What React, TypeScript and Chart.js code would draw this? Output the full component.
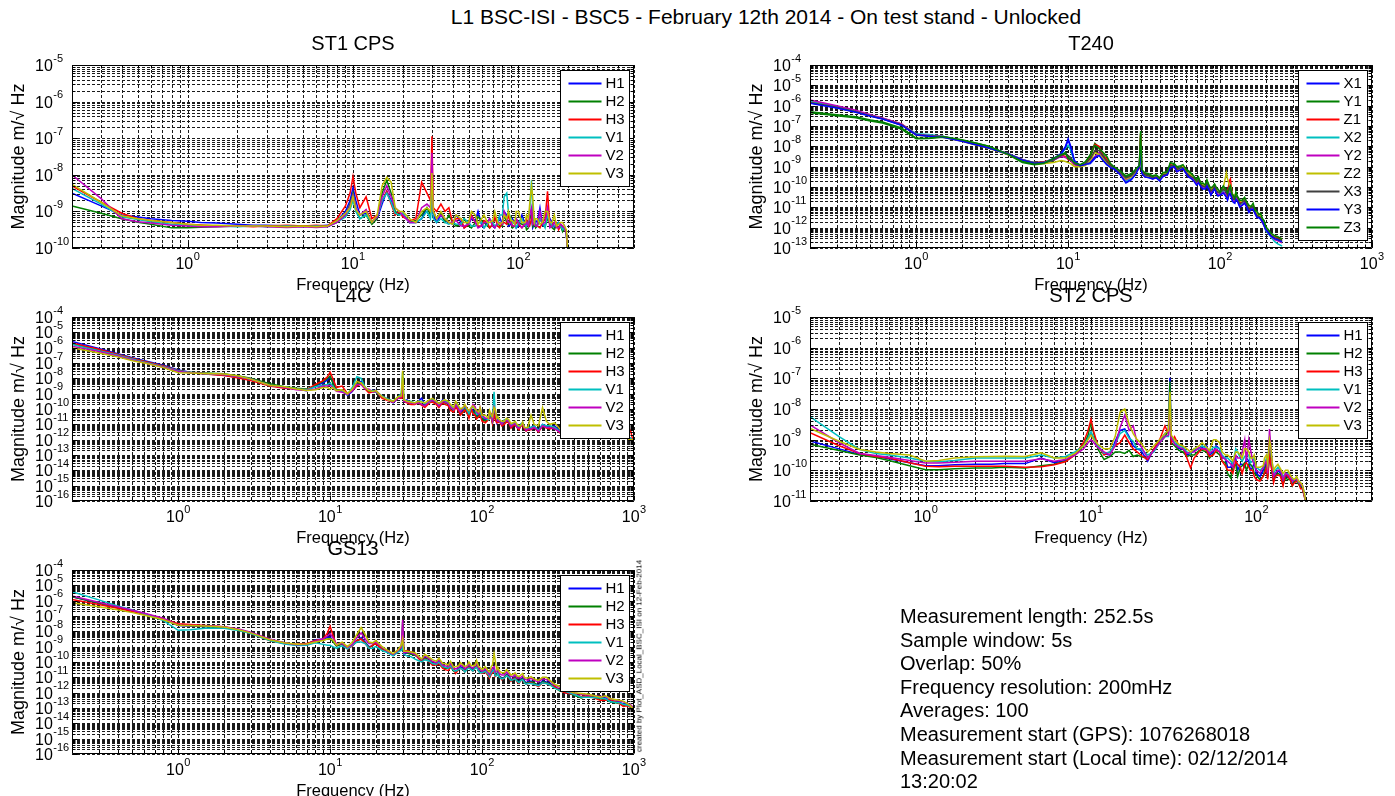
import { useEffect, useRef } from "react";
import { Chart, registerables } from "chart.js";

Chart.register(...registerables);

const PAGE_W = 1395;
const PAGE_H = 796;
const FONT = '"Liberation Sans", Arial, Helvetica, sans-serif';

const SUPTITLE = "L1 BSC-ISI - BSC5 - February 12th 2014 - On test stand - Unlocked";
const CREDIT = "created by Plot_ASD_Local_BSC_ISI on 12-Feb-2014";
const INFO_LINES = [
  "Measurement length: 252.5s",
  "Sample window: 5s",
  "Overlap: 50%",
  "Frequency resolution: 200mHz",
  "Averages: 100",
  "Measurement start (GPS): 1076268018",
  "Measurement start (Local time): 02/12/2014",
  "13:20:02",
];
const X_LABEL = "Frequency (Hz)";
const Y_LABEL = "Magnitude m/\u221A Hz";

// Frequency bins (Hz): main bins plus extra high-frequency bins
const FREQ_CPS = [
  0.2, 0.3, 0.4, 0.5, 0.6, 0.8, 1, 1.2, 1.5, 2,
  2.5, 3, 4, 5, 6, 7, 8, 9, 9.6, 10,
  10.4, 11, 12, 13, 14, 15, 16, 17, 18, 19,
  20, 22, 24, 26, 28, 29.4, 30, 30.6, 32, 34,
  36, 38, 40, 45, 50, 55, 60, 65, 70, 75,
  80, 85, 90, 95, 100, 110, 115, 120, 125, 130,
  140, 150, 160, 170, 180, 190, 200,
];
const FREQ_T240 = [...FREQ_CPS, 215, 230, 256];
const FREQ_INERTIAL = [...FREQ_CPS, 220, 250, 280, 300, 350, 400, 500, 600, 700, 800, 900, 950, 1000];

const FINE_CPS = [
  42, 47, 52, 57, 62, 67, 72, 77, 82, 87,
  92, 97, 105, 112, 117, 122, 127, 135, 145, 155,
  165, 175, 185, 195,
];
const FINE_T240 = [...FINE_CPS, 208, 240];
const FINE_INERTIAL = [...FINE_CPS, 210, 235, 265, 325, 450, 650, 850, 975];

// Amplitude spectral densities, stored as log10(m/sqrt(Hz))
const ST1_H1 = [
  -8.5, -8.85, -9.1, -9.15, -9.2, -9.25, -9.27, -9.3, -9.32, -9.35,
  -9.38, -9.38, -9.4, -9.4, -9.4, -9.38, -9.25, -9.0, -8.7, -8.35,
  -8.7, -9.1, -9.05, -9.3, -9.2, -8.8, -8.45, -8.7, -9.05, -9.0,
  -9.1, -9.3, -9.3, -9.2, -8.9, -9.05, -8.4, -9.1, -9.3, -9.1,
  -9.25, -9.3, -9.35, -9.3, -9.35, -9.25, -9.38, -9.3, -9.4, -9.3,
  -9.35, -9.1, -9.35, -9.3, -9.4, -9.35, -9.3, -9.05, -9.35, -9.3,
  -9.38, -9.0, -9.3, -9.4, -9.35, -9.4, -10.3,
];
const ST1_H1_F = [-9.1, -9.45, -9.2, -9.0, -9.45, -9.2, -9.45, -9.15, -9.0, -9.4, -9.2, -9.45, -9.1, -9.4, -9.2, -9.45, -9.25, -8.9, -9.4, -9.2, -9.45, -9.3, -9.5, -9.6];
const ST1_H2 = [
  -8.85, -9.05, -9.2, -9.3, -9.35, -9.45, -9.45, -9.43, -9.42, -9.4,
  -9.4, -9.4, -9.42, -9.4, -9.42, -9.4, -9.3, -9.1, -8.8, -8.5,
  -8.9, -9.2, -9.1, -9.35, -9.2, -8.5, -8.15, -8.5, -9.0, -9.1,
  -9.05, -9.3, -9.25, -9.1, -8.9, -9.1, -8.4, -9.0, -9.2, -9.05,
  -9.3, -9.1, -9.3, -9.35, -9.4, -9.3, -9.25, -9.4, -9.35, -9.3,
  -9.4, -9.3, -9.2, -9.4, -9.3, -9.35, -9.45, -9.1, -9.3, -9.4,
  -9.35, -9.2, -9.45, -9.35, -9.4, -9.45, -10.4,
];
const ST1_H2_F = [-9.4, -9.2, -9.45, -9.15, -9.3, -9.45, -9.2, -9.4, -9.1, -9.35, -9.45, -9.2, -9.35, -9.5, -9.2, -9.4, -9.45, -9.2, -9.4, -9.3, -9.5, -9.35, -9.55, -9.6];
const ST1_H3 = [
  -8.3, -8.75, -9.05, -9.2, -9.25, -9.3, -9.35, -9.37, -9.4, -9.4,
  -9.42, -9.4, -9.38, -9.4, -9.38, -9.4, -9.2, -8.85, -8.5, -8.05,
  -8.5, -8.9, -8.6, -9.2, -9.1, -8.7, -8.45, -8.8, -9.1, -9.0,
  -9.15, -9.25, -9.2, -8.2, -8.5, -8.7, -6.95, -8.9, -9.0, -8.8,
  -9.0, -8.9, -9.3, -9.2, -9.35, -9.3, -9.4, -9.3, -9.35, -9.4,
  -9.3, -9.35, -9.3, -9.4, -9.35, -9.3, -9.4, -9.2, -9.35, -9.4,
  -9.3, -8.45, -9.35, -9.3, -9.4, -9.45, -10.2,
];
const ST1_H3_F = [-9.2, -9.45, -9.1, -9.4, -9.25, -9.45, -9.15, -9.45, -9.3, -9.1, -9.4, -9.3, -9.45, -9.2, -9.4, -8.9, -9.35, -9.45, -9.2, -9.4, -9.3, -9.5, -9.4, -9.6];
const ST1_V1 = [
  -8.37, -8.8, -9.15, -9.22, -9.28, -9.35, -9.38, -9.4, -9.4, -9.42,
  -9.4, -9.42, -9.4, -9.42, -9.4, -9.42, -9.3, -9.15, -8.95, -8.7,
  -9.0, -9.2, -9.1, -9.3, -9.15, -8.7, -8.5, -8.75, -9.05, -9.1,
  -9.05, -9.3, -9.3, -9.2, -9.0, -9.2, -8.5, -9.2, -9.3, -9.2,
  -9.3, -9.35, -9.3, -9.35, -9.3, -9.4, -9.3, -9.35, -9.3, -9.35,
  -9.1, -8.5, -9.2, -9.35, -9.3, -9.4, -9.3, -8.15, -9.3, -9.35,
  -9.3, -9.1, -9.4, -9.35, -9.4, -9.45, -10.3,
];
const ST1_V1_F = [-9.35, -9.2, -9.4, -9.3, -9.45, -9.2, -9.4, -9.1, -8.6, -9.0, -9.3, -9.45, -9.2, -9.4, -9.0, -8.9, -9.35, -9.2, -9.45, -9.3, -9.4, -9.3, -9.5, -9.6];
const ST1_V2 = [
  -8.0, -8.65, -9.2, -9.28, -9.32, -9.38, -9.4, -9.42, -9.42, -9.4,
  -9.4, -9.42, -9.44, -9.42, -9.44, -9.42, -9.3, -9.1, -8.85, -8.56,
  -8.9, -9.1, -8.95, -9.3, -9.15, -8.6, -8.3, -8.6, -8.9, -9.0,
  -9.1, -9.3, -9.3, -8.9, -8.8, -8.9, -7.4, -9.0, -9.2, -9.1,
  -9.2, -9.3, -9.3, -9.4, -9.35, -9.3, -9.4, -9.3, -9.4, -9.3,
  -9.35, -9.2, -9.3, -9.4, -9.3, -9.35, -9.4, -8.9, -9.3, -9.4,
  -9.35, -8.9, -9.4, -9.45, -9.35, -9.45, -10.3,
];
const ST1_V2_F = [-9.25, -9.4, -9.15, -9.45, -9.3, -9.2, -9.45, -9.3, -9.0, -9.3, -9.4, -9.2, -9.45, -9.3, -9.1, -9.35, -9.4, -9.0, -9.3, -9.45, -9.3, -9.45, -9.4, -9.6];
const ST1_V3 = [
  -8.26, -8.75, -9.12, -9.2, -9.25, -9.3, -9.35, -9.38, -9.38, -9.4,
  -9.4, -9.4, -9.42, -9.4, -9.42, -9.4, -9.25, -9.05, -8.9, -8.6,
  -8.95, -9.1, -9.0, -9.3, -9.1, -8.3, -8.07, -8.2, -8.9, -9.0,
  -9.0, -9.2, -9.3, -9.0, -8.9, -9.0, -7.95, -9.0, -9.2, -9.0,
  -9.2, -9.3, -9.35, -9.2, -9.3, -9.1, -9.2, -9.3, -9.25, -9.3,
  -9.3, -9.2, -9.25, -9.35, -9.0, -9.3, -9.2, -8.3, -9.3, -9.2,
  -9.3, -9.0, -9.3, -9.4, -9.3, -9.4, -10.3,
];
const ST1_V3_F = [-9.1, -9.3, -9.0, -9.35, -9.1, -9.3, -9.0, -9.35, -9.1, -9.0, -9.25, -9.0, -9.3, -9.1, -8.8, -8.6, -9.2, -9.35, -9.0, -9.3, -9.1, -9.35, -9.3, -9.5];

const T240_X1 = [
  -5.86, -6.1, -6.3, -6.5, -6.65, -6.95, -7.42, -7.48, -7.53, -7.72,
  -7.9, -8.05, -8.35, -8.65, -8.82, -8.78, -8.6, -8.35, -8.0, -7.63,
  -8.0, -8.7, -8.95, -8.9, -8.85, -8.6, -8.4, -8.7, -8.9, -9.0,
  -9.05, -9.3, -9.75, -9.6, -9.3, -8.9, -8.2, -9.3, -9.5, -9.4,
  -9.55, -9.5, -9.65, -9.3, -8.95, -9.1, -9.3, -9.5, -9.8, -9.9,
  -10.0, -10.2, -10.1, -10.3, -10.35, -10.5, -10.3, -10.6, -10.75, -10.6,
  -10.85, -10.95, -11.05, -11.3, -11.5, -11.7, -12.1, -12.35, -12.5, -12.65,
];
const T240_X1_F = [-9.4, -9.0, -9.2, -9.05, -9.5, -9.65, -9.7, -10.05, -9.85, -10.35, -10.0, -10.4, -10.2, -10.6, -10.2, -10.7, -10.5, -10.95, -10.75, -11.2, -11.0, -11.45, -11.5, -11.85, -12.2, -12.6];
const T240_Y1 = [
  -6.35, -6.5, -6.6, -6.75, -6.85, -7.15, -7.63, -7.62, -7.55, -7.7,
  -7.85, -8.0, -8.4, -8.8, -8.9, -8.85, -8.7, -8.45, -8.3, -8.55,
  -8.6, -8.85, -8.95, -8.8, -8.4, -7.85, -8.05, -8.4, -8.65, -8.9,
  -9.05, -9.25, -9.5, -9.4, -9.15, -9.0, -7.25, -9.2, -9.35, -9.4,
  -9.5, -9.45, -9.6, -9.3, -8.9, -9.0, -9.2, -9.4, -9.7, -9.9,
  -9.95, -10.0, -10.0, -10.1, -10.3, -10.2, -10.1, -10.4, -10.6, -10.5,
  -10.7, -10.8, -11.0, -11.2, -11.4, -11.6, -12.0, -12.3, -12.45, -12.6,
];
const T240_Y1_F = [-9.35, -8.85, -9.05, -8.95, -9.25, -9.5, -9.55, -9.85, -9.7, -10.15, -9.9, -10.2, -10.0, -10.35, -10.0, -10.5, -10.3, -10.7, -10.6, -11.0, -10.9, -11.3, -11.4, -11.7, -12.15, -12.5];
const T240_Z1 = [
  -5.8, -6.05, -6.28, -6.48, -6.62, -6.9, -7.4, -7.46, -7.52, -7.74,
  -7.92, -8.07, -8.35, -8.68, -8.8, -8.75, -8.65, -8.4, -8.5, -8.65,
  -8.7, -8.9, -8.95, -8.85, -8.5, -7.9, -8.0, -8.5, -8.6, -8.9,
  -9.1, -9.3, -9.6, -9.5, -9.2, -9.1, -7.4, -9.2, -9.4, -9.5,
  -9.55, -9.5, -9.6, -9.35, -9.0, -9.15, -9.3, -9.5, -9.75, -9.85,
  -10.0, -10.1, -10.0, -10.2, -10.3, -10.2, -9.7, -10.4, -10.5, -10.55,
  -10.7, -10.85, -11.0, -11.25, -11.4, -11.65, -12.05, -12.3, -12.45, -12.55,
];
const T240_Z1_F = [-9.45, -8.9, -9.1, -9.0, -9.35, -9.55, -9.6, -9.9, -9.75, -10.2, -9.95, -10.25, -10.1, -10.3, -9.6, -10.55, -10.4, -10.8, -10.6, -11.05, -10.9, -11.35, -11.45, -11.8, -12.15, -12.5];
const T240_X2 = [
  -5.8, -6.05, -6.3, -6.48, -6.62, -6.92, -7.38, -7.42, -7.5, -7.72,
  -7.9, -8.05, -8.35, -8.66, -8.8, -8.78, -8.62, -8.4, -8.1, -7.95,
  -8.2, -8.75, -8.95, -8.85, -8.8, -8.5, -8.35, -8.65, -8.85, -9.0,
  -9.1, -9.3, -9.7, -9.55, -9.3, -9.0, -8.3, -9.3, -9.45, -9.5,
  -9.6, -9.5, -9.6, -9.35, -9.0, -9.1, -9.35, -9.5, -9.8, -9.95,
  -10.05, -10.1, -10.2, -10.3, -10.35, -10.4, -10.2, -10.5, -10.7, -10.6,
  -10.85, -10.9, -11.1, -11.3, -11.5, -11.75, -12.15, -12.45, -12.7, -12.9,
];
const T240_X2_F = [-9.4, -9.0, -9.2, -9.1, -9.45, -9.6, -9.75, -10.0, -9.9, -10.25, -10.05, -10.35, -10.2, -10.5, -10.25, -10.65, -10.55, -10.9, -10.75, -11.15, -11.05, -11.45, -11.55, -11.9, -12.3, -12.8];
const T240_Y2 = [
  -5.72, -6.0, -6.22, -6.45, -6.6, -6.9, -7.42, -7.47, -7.52, -7.73,
  -7.9, -8.05, -8.36, -8.66, -8.82, -8.8, -8.68, -8.5, -8.55, -8.6,
  -8.7, -8.9, -9.0, -8.9, -8.75, -8.5, -8.3, -8.6, -8.8, -9.0,
  -9.1, -9.35, -9.65, -9.5, -9.25, -9.05, -8.15, -9.3, -9.5, -9.5,
  -9.6, -9.55, -9.65, -9.4, -9.05, -9.15, -9.35, -9.55, -9.85, -9.95,
  -10.05, -10.1, -10.15, -10.3, -10.4, -10.35, -10.1, -10.5, -10.7, -10.6,
  -10.9, -10.95, -11.05, -11.3, -11.5, -11.75, -12.1, -12.4, -12.6, -12.75,
];
const T240_Y2_F = [-9.45, -9.0, -9.25, -9.1, -9.5, -9.65, -9.75, -10.05, -9.9, -10.3, -10.05, -10.35, -10.25, -10.55, -10.2, -10.7, -10.55, -10.95, -10.75, -11.2, -11.05, -11.5, -11.55, -11.9, -12.25, -12.65];
const T240_Z2 = [
  -5.85, -6.1, -6.32, -6.5, -6.65, -6.95, -7.45, -7.5, -7.55, -7.75,
  -7.95, -8.1, -8.4, -8.7, -8.85, -8.85, -8.8, -8.7, -8.75, -8.8,
  -8.85, -9.0, -9.0, -8.95, -8.7, -8.3, -8.4, -8.6, -8.8, -9.0,
  -9.05, -9.3, -9.6, -9.5, -9.25, -9.0, -8.15, -9.25, -9.45, -9.5,
  -9.55, -9.5, -9.6, -9.35, -9.0, -9.1, -9.3, -9.45, -9.7, -9.8,
  -9.9, -10.0, -10.1, -10.2, -10.25, -9.3, -9.9, -10.3, -10.4, -10.5,
  -10.7, -10.8, -11.0, -11.2, -11.4, -11.6, -12.0, -12.3, -12.5, -12.7,
];
const T240_Z2_F = [-9.35, -8.95, -9.15, -9.0, -9.35, -9.5, -9.6, -9.9, -9.75, -10.1, -9.9, -10.15, -10.05, -9.6, -9.9, -10.4, -10.3, -10.7, -10.55, -10.95, -10.85, -11.3, -11.4, -11.8, -12.15, -12.6];
const T240_X3 = [
  -5.84, -6.08, -6.3, -6.5, -6.64, -6.93, -7.43, -7.48, -7.53, -7.73,
  -7.92, -8.07, -8.37, -8.67, -8.82, -8.8, -8.66, -8.45, -8.35, -8.45,
  -8.55, -8.85, -8.95, -8.85, -8.6, -8.2, -8.2, -8.5, -8.75, -8.95,
  -9.05, -9.3, -9.55, -9.45, -9.2, -9.0, -7.9, -9.25, -9.4, -9.45,
  -9.55, -9.5, -9.6, -9.35, -8.95, -9.05, -9.3, -9.5, -9.75, -9.9,
  -10.0, -10.05, -10.1, -10.2, -10.3, -10.25, -10.0, -10.45, -10.6, -10.5,
  -10.75, -10.85, -11.0, -11.25, -11.45, -11.65, -12.05, -12.35, -12.5, -12.65,
];
const T240_X3_F = [-9.4, -8.95, -9.15, -9.05, -9.4, -9.55, -9.65, -9.95, -9.8, -10.2, -9.95, -10.25, -10.1, -10.4, -10.1, -10.6, -10.45, -10.85, -10.65, -11.1, -10.95, -11.4, -11.5, -11.85, -12.2, -12.55];
const T240_Y3 = [
  -5.88, -6.12, -6.32, -6.52, -6.66, -6.96, -7.44, -7.5, -7.55, -7.75,
  -7.93, -8.08, -8.38, -8.68, -8.84, -8.8, -8.62, -8.38, -8.05, -7.7,
  -8.05, -8.72, -8.95, -8.9, -8.8, -8.55, -8.45, -8.7, -8.9, -9.05,
  -9.1, -9.4, -9.8, -9.65, -9.35, -9.0, -8.25, -9.35, -9.5, -9.55,
  -9.6, -9.55, -9.7, -9.4, -9.0, -9.15, -9.35, -9.6, -9.9, -10.0,
  -10.1, -10.2, -10.2, -10.35, -10.4, -10.5, -10.35, -10.65, -10.8, -10.7,
  -10.9, -11.0, -11.1, -11.3, -11.5, -11.7, -12.1, -12.4, -12.55, -12.7,
];
const T240_Y3_F = [-9.5, -9.05, -9.25, -9.1, -9.5, -9.7, -9.8, -10.1, -9.95, -10.4, -10.1, -10.45, -10.3, -10.65, -10.35, -10.75, -10.6, -11.0, -10.8, -11.25, -11.1, -11.5, -11.6, -11.9, -12.25, -12.6];
const T240_Z3 = [
  -6.3, -6.45, -6.55, -6.7, -6.8, -7.1, -7.6, -7.6, -7.52, -7.68,
  -7.85, -8.0, -8.38, -8.75, -8.88, -8.82, -8.6, -8.4, -8.35, -8.6,
  -8.65, -8.8, -8.9, -8.75, -8.45, -7.95, -8.1, -8.3, -8.5, -8.85,
  -9.0, -9.2, -9.45, -9.35, -9.1, -8.95, -7.35, -9.15, -9.3, -9.35,
  -9.45, -9.4, -9.55, -9.25, -8.85, -8.95, -9.15, -9.35, -9.65, -9.85,
  -9.9, -9.95, -9.95, -10.05, -10.25, -10.15, -10.05, -10.35, -10.55, -10.45,
  -10.65, -10.75, -10.95, -11.15, -11.35, -11.55, -11.95, -12.25, -12.4, -12.55,
];
const T240_Z3_F = [-9.3, -8.8, -9.0, -8.9, -9.2, -9.45, -9.5, -9.8, -9.65, -10.05, -9.85, -10.1, -9.95, -10.3, -9.95, -10.4, -10.25, -10.65, -10.5, -10.9, -10.8, -11.2, -11.3, -11.65, -12.1, -12.45];

const L4C_H1 = [
  -5.6, -6.05, -6.4, -6.65, -6.85, -7.15, -7.45, -7.6, -7.7, -7.8,
  -7.95, -8.1, -8.45, -8.6, -8.7, -8.8, -8.5, -8.3, -8.1, -7.9,
  -8.2, -8.8, -8.8, -9.1, -8.85, -8.4, -8.2, -8.6, -8.9, -8.8,
  -8.8, -9.2, -9.4, -9.6, -9.3, -9.2, -8.7, -9.5, -9.4, -9.6,
  -9.65, -9.5, -9.3, -9.6, -9.5, -9.4, -9.6, -10.0, -9.9, -10.1,
  -10.2, -10.0, -10.3, -10.2, -10.5, -10.6, -10.4, -10.2, -10.9, -10.7,
  -10.8, -10.9, -11.0, -11.1, -11.0, -11.2, -11.3,
  -11.1, -11.0, -11.2, -11.1, -11.3, -11.4, -11.5, -11.4, -11.6, -11.7, -11.8, -11.9, -12.2,
];
const L4C_H1_F = [-9.7, -9.35, -9.75, -9.5, -9.9, -9.7, -10.2, -9.9, -10.4, -10.1, -10.5, -10.3, -10.7, -10.35, -10.8, -10.5, -10.7, -11.0, -10.7, -11.1, -10.9, -11.2, -10.9, -11.35, -11.2, -11.4, -11.1, -11.4, -11.6, -11.5, -11.8, -12.0];
const L4C_H2 = [
  -5.75, -6.15, -6.45, -6.7, -6.9, -7.2, -7.5, -7.6, -7.65, -7.7,
  -7.85, -8.0, -8.35, -8.55, -8.65, -8.7, -8.45, -8.2, -8.0, -7.85,
  -8.3, -8.75, -8.8, -9.05, -8.8, -8.35, -8.3, -8.65, -8.9, -8.85,
  -8.9, -9.25, -9.35, -9.5, -9.25, -9.1, -8.6, -9.4, -9.5, -9.6,
  -9.6, -9.55, -9.7, -9.5, -9.6, -9.5, -9.7, -10.1, -10.0, -10.2,
  -10.3, -10.1, -10.2, -10.4, -10.6, -10.7, -10.5, -10.3, -10.8, -10.8,
  -10.9, -10.8, -11.0, -11.2, -11.1, -11.2, -11.3,
  -11.2, -11.1, -11.2, -11.2, -11.35, -11.4, -11.5, -11.5, -11.6, -11.7, -11.9, -12.0, -12.3,
];
const L4C_H2_F = [-9.8, -9.5, -9.85, -9.6, -10.0, -9.8, -10.3, -10.0, -10.5, -10.2, -10.6, -10.35, -10.8, -10.5, -10.9, -10.6, -10.85, -11.05, -10.8, -11.2, -11.0, -11.3, -11.0, -11.4, -11.3, -11.45, -11.2, -11.5, -11.65, -11.6, -11.85, -12.1];
const L4C_H3 = [
  -5.7, -6.1, -6.45, -6.7, -6.9, -7.2, -7.5, -7.62, -7.72, -7.82,
  -7.98, -8.15, -8.5, -8.65, -8.7, -8.75, -8.4, -8.15, -7.9, -7.6,
  -8.0, -8.6, -8.5, -9.0, -8.8, -8.5, -8.35, -8.7, -8.95, -8.9,
  -8.85, -9.3, -9.45, -9.55, -9.3, -9.3, -9.0, -9.5, -9.6, -9.7,
  -9.7, -9.6, -9.75, -9.6, -9.7, -9.6, -9.8, -10.2, -10.1, -10.2,
  -10.3, -10.0, -10.4, -10.5, -10.8, -10.7, -10.6, -10.4, -10.9, -10.8,
  -11.0, -10.9, -11.1, -11.2, -11.1, -11.3, -11.35,
  -11.2, -11.1, -11.3, -11.2, -11.4, -11.5, -11.6, -11.5, -11.6, -11.7, -11.8, -11.4, -12.1,
];
const L4C_H3_F = [-9.9, -9.55, -9.9, -9.7, -10.1, -9.9, -10.4, -10.05, -10.6, -10.3, -10.65, -10.4, -10.9, -10.55, -10.95, -10.7, -10.9, -11.1, -10.85, -11.25, -11.05, -11.35, -11.1, -11.45, -11.35, -11.5, -11.25, -11.55, -11.7, -11.6, -11.3, -11.9];
const L4C_V1 = [
  -5.8, -6.2, -6.5, -6.75, -6.95, -7.25, -7.52, -7.62, -7.7, -7.75,
  -7.9, -8.05, -8.45, -8.55, -8.7, -8.75, -8.55, -8.45, -8.4, -8.3,
  -8.5, -8.8, -8.85, -9.05, -8.6, -7.9, -8.0, -8.6, -8.8, -8.8,
  -8.9, -9.15, -9.35, -9.5, -9.2, -9.0, -7.6, -9.4, -9.5, -9.5,
  -9.6, -9.5, -9.5, -9.55, -9.5, -9.5, -9.6, -10.0, -9.9, -10.0,
  -10.1, -9.9, -10.0, -10.3, -10.5, -10.7, -10.5, -8.87, -10.6, -10.8,
  -10.7, -10.8, -11.0, -11.1, -11.0, -11.2, -11.2,
  -11.1, -11.0, -11.1, -11.2, -11.3, -11.4, -11.5, -11.4, -11.6, -11.7, -11.8, -11.9, -12.15,
];
const L4C_V1_F = [-9.65, -9.4, -9.7, -9.45, -9.8, -9.6, -10.1, -9.85, -10.3, -9.9, -10.35, -10.2, -10.6, -10.3, -10.75, -10.2, -10.6, -10.95, -10.7, -11.05, -10.9, -11.15, -10.9, -11.3, -11.2, -11.4, -11.1, -11.45, -11.6, -11.55, -11.8, -12.0];
const L4C_V2 = [
  -5.9, -6.25, -6.55, -6.8, -6.98, -7.28, -7.55, -7.63, -7.68, -7.75,
  -7.9, -8.05, -8.45, -8.6, -8.75, -8.8, -8.7, -8.5, -8.5, -8.45,
  -8.6, -8.85, -8.9, -9.05, -8.8, -8.4, -8.4, -8.7, -8.7, -8.9,
  -8.85, -9.2, -9.4, -9.55, -9.3, -9.2, -8.3, -9.5, -9.55, -9.6,
  -9.65, -9.6, -9.7, -9.5, -9.55, -9.5, -9.65, -10.05, -10.0, -9.9,
  -10.0, -10.0, -9.85, -10.3, -10.4, -10.6, -10.3, -9.9, -10.7, -10.75,
  -10.8, -10.8, -11.0, -11.2, -11.1, -11.2, -11.3,
  -11.2, -11.1, -11.2, -11.3, -11.3, -11.4, -11.5, -11.6, -11.6, -11.8, -11.9, -12.0, -12.3,
];
const L4C_V2_F = [-9.8, -9.45, -9.8, -9.55, -9.9, -9.7, -10.2, -9.8, -10.1, -9.7, -10.2, -9.9, -10.6, -10.3, -10.7, -10.1, -10.8, -11.0, -10.75, -11.15, -10.95, -11.25, -11.0, -11.4, -11.3, -11.45, -11.2, -11.5, -11.65, -11.6, -11.85, -12.1];
const L4C_V3 = [
  -6.0, -6.35, -6.6, -6.85, -7.0, -7.3, -7.63, -7.65, -7.68, -7.72,
  -7.85, -8.05, -8.45, -8.55, -8.7, -8.8, -8.75, -8.6, -8.6, -8.7,
  -8.6, -8.8, -8.75, -9.0, -8.7, -8.2, -8.3, -8.6, -8.8, -8.85,
  -8.8, -9.2, -9.4, -9.5, -9.2, -9.15, -7.5, -9.4, -9.5, -9.55,
  -9.6, -9.5, -9.55, -9.4, -9.5, -9.45, -9.5, -9.9, -9.8, -9.9,
  -10.0, -9.9, -10.0, -10.2, -10.4, -10.6, -10.4, -9.9, -10.6, -10.7,
  -10.8, -10.7, -10.9, -11.0, -11.1, -11.2, -11.2,
  -11.0, -9.9, -11.0, -10.9, -11.2, -11.3, -11.5, -11.4, -11.6, -11.7, -11.9, -12.0, -12.3,
];
const L4C_V3_F = [-9.6, -9.3, -9.65, -9.4, -9.7, -9.5, -10.0, -9.7, -10.1, -9.8, -10.1, -9.9, -10.4, -10.1, -10.5, -10.0, -10.5, -10.8, -10.6, -10.95, -10.8, -11.1, -10.85, -11.2, -10.4, -11.1, -10.8, -11.3, -11.5, -11.5, -11.75, -12.0];

const ST2_H1 = [
  -9.04, -9.3, -9.48, -9.55, -9.62, -9.75, -9.85, -9.85, -9.82, -9.8,
  -9.8, -9.78, -9.78, -9.6, -9.75, -9.68, -9.45, -9.15, -8.95, -8.77,
  -9.0, -9.2, -9.45, -9.5, -9.05, -8.7, -8.65, -8.9, -9.2, -9.3,
  -9.35, -9.7, -9.3, -9.05, -8.8, -8.7, -6.98, -9.0, -9.1, -9.3,
  -9.3, -9.5, -9.45, -9.3, -9.2, -9.4, -9.3, -9.6, -9.9, -9.6,
  -9.8, -9.9, -9.7, -9.9, -10.1, -10.0, -9.7, -9.4, -10.0, -10.1,
  -10.1, -10.2, -10.3, -10.35, -10.4, -10.6, -11.1,
];
const ST2_H1_F = [-9.35, -9.25, -9.5, -9.2, -9.6, -9.9, -9.7, -10.0, -9.8, -9.6, -10.0, -9.75, -10.2, -9.9, -10.2, -9.5, -10.3, -10.0, -10.4, -10.2, -10.45, -10.3, -10.5, -10.8];
const ST2_H2 = [
  -9.15, -9.35, -9.5, -9.58, -9.68, -9.85, -9.98, -9.98, -9.95, -9.92,
  -9.92, -9.9, -9.92, -9.85, -9.8, -9.7, -9.5, -9.2, -8.85, -8.45,
  -8.8, -9.3, -9.65, -9.55, -9.4, -9.4, -9.45, -9.35, -9.55, -9.5,
  -9.55, -9.6, -9.35, -9.1, -8.9, -8.7, -7.1, -9.1, -9.2, -9.35,
  -9.4, -9.55, -9.5, -9.35, -9.4, -9.45, -9.5, -9.75, -10.25, -9.8,
  -9.9, -9.75, -9.8, -9.9, -10.15, -10.2, -9.8, -9.3, -10.1, -10.2,
  -10.15, -10.25, -10.3, -10.35, -10.45, -10.6, -11.1,
];
const ST2_H2_F = [-9.5, -9.35, -9.6, -9.4, -9.7, -10.1, -9.9, -10.2, -9.85, -10.0, -9.8, -10.1, -10.3, -10.0, -10.25, -9.7, -10.35, -10.1, -10.45, -10.3, -10.5, -10.35, -10.55, -10.85];
const ST2_H3 = [
  -8.77, -9.2, -9.45, -9.55, -9.6, -9.75, -9.87, -9.88, -9.87, -9.87,
  -9.87, -9.87, -9.9, -9.88, -9.82, -9.72, -9.5, -9.1, -8.7, -8.33,
  -8.75, -9.2, -9.5, -9.4, -9.2, -9.1, -8.85, -9.1, -9.3, -9.4,
  -9.5, -9.65, -9.3, -9.0, -8.55, -8.8, -8.3, -9.1, -8.9, -9.2,
  -9.25, -9.6, -9.92, -9.4, -9.35, -9.5, -9.4, -9.85, -10.0, -9.7,
  -9.9, -9.8, -9.9, -10.0, -10.3, -10.2, -9.9, -9.5, -10.1, -10.2,
  -10.2, -10.1, -10.3, -10.4, -10.4, -10.6, -11.1,
];
const ST2_H3_F = [-9.6, -9.3, -9.55, -9.35, -9.7, -10.0, -10.1, -9.8, -10.1, -9.75, -10.0, -10.2, -10.35, -10.1, -10.3, -9.8, -10.4, -10.15, -10.5, -10.2, -10.5, -10.35, -10.6, -10.85];
const ST2_V1 = [
  -8.25, -8.9, -9.32, -9.45, -9.5, -9.6, -9.7, -9.72, -9.68, -9.6,
  -9.6, -9.6, -9.6, -9.5, -9.6, -9.55, -9.4, -9.2, -8.95, -8.75,
  -8.95, -9.2, -9.45, -9.4, -9.15, -8.8, -8.7, -8.95, -9.05, -9.3,
  -9.3, -9.5, -9.4, -9.1, -8.9, -8.9, -7.7, -8.9, -9.1, -9.2,
  -9.25, -9.4, -9.45, -9.3, -9.3, -9.25, -9.3, -9.6, -9.7, -9.3,
  -9.6, -9.55, -9.5, -9.7, -9.9, -9.9, -9.6, -8.9, -9.8, -10.0,
  -10.0, -10.1, -10.2, -10.3, -10.4, -10.5, -11.1,
];
const ST2_V1_F = [-9.3, -9.2, -9.4, -9.25, -9.5, -9.6, -9.8, -9.4, -9.7, -9.5, -9.75, -9.6, -10.0, -9.8, -9.9, -9.3, -10.1, -9.9, -10.2, -10.1, -10.3, -10.25, -10.45, -10.75];
const ST2_V2 = [
  -8.52, -9.1, -9.45, -9.52, -9.57, -9.68, -9.76, -9.76, -9.74, -9.7,
  -9.7, -9.7, -9.7, -9.62, -9.7, -9.65, -9.5, -9.3, -9.1, -9.0,
  -9.1, -9.25, -9.4, -9.5, -9.2, -8.6, -8.2, -8.7, -8.55, -9.1,
  -9.2, -9.6, -9.35, -9.1, -8.9, -8.85, -7.8, -8.95, -9.15, -9.25,
  -9.3, -9.45, -9.4, -9.25, -9.3, -9.35, -9.4, -9.65, -9.8, -9.5,
  -9.6, -9.0, -9.0, -9.7, -10.0, -9.9, -9.7, -8.65, -9.9, -10.1,
  -10.0, -10.1, -10.2, -10.3, -10.35, -10.5, -11.1,
];
const ST2_V2_F = [-9.4, -9.3, -9.45, -9.3, -9.55, -9.7, -9.9, -9.6, -9.4, -9.7, -9.3, -9.8, -10.1, -9.8, -10.1, -9.2, -10.2, -10.0, -10.3, -10.15, -10.35, -10.3, -10.45, -10.8];
const ST2_V3 = [
  -8.63, -9.05, -9.32, -9.4, -9.45, -9.5, -9.7, -9.68, -9.6, -9.56,
  -9.55, -9.54, -9.55, -9.43, -9.6, -9.6, -9.45, -9.2, -9.0, -8.85,
  -9.0, -9.15, -9.3, -9.3, -8.9, -8.1, -8.0, -8.5, -8.8, -9.0,
  -9.1, -9.4, -9.2, -9.0, -8.8, -8.7, -7.45, -8.85, -9.0, -9.15,
  -9.2, -9.3, -9.4, -9.2, -9.25, -9.0, -9.1, -9.5, -9.6, -9.4,
  -9.5, -9.3, -9.4, -9.6, -9.9, -9.85, -9.5, -9.0, -9.8, -9.9,
  -9.95, -10.0, -10.15, -10.3, -10.35, -10.5, -11.1,
];
const ST2_V3_F = [-9.3, -9.1, -9.35, -9.0, -9.4, -9.5, -9.7, -9.4, -9.6, -9.3, -9.6, -9.5, -9.9, -9.6, -9.8, -9.2, -10.0, -9.8, -10.1, -10.0, -10.25, -10.2, -10.4, -10.75];

const GS13_H1 = [
  -5.75, -6.15, -6.45, -6.65, -6.85, -7.2, -7.62, -7.66, -7.68, -7.73,
  -7.9, -8.1, -8.55, -8.75, -8.9, -8.85, -8.55, -8.5, -8.4, -8.37,
  -8.6, -8.95, -8.8, -9.1, -8.95, -8.65, -8.4, -8.7, -9.0, -8.95,
  -8.65, -9.1, -9.3, -9.55, -9.3, -9.2, -8.8, -9.5, -9.4, -9.45,
  -9.5, -9.7, -9.9, -9.85, -10.1, -10.2, -10.4, -10.5, -10.45, -10.4,
  -10.35, -10.4, -10.3, -10.5, -10.65, -10.9, -10.7, -10.4, -10.75, -10.9,
  -11.0, -10.9, -11.1, -11.2, -11.1, -11.25, -11.3,
  -11.4, -11.25, -11.4, -11.6, -12.0, -12.1, -12.2, -12.3, -12.55, -12.6, -12.7, -12.9, -13.2,
];
const GS13_H1_F = [-9.7, -10.1, -9.95, -10.4, -10.25, -10.6, -10.3, -10.55, -10.2, -10.5, -10.15, -10.6, -10.5, -10.95, -10.6, -10.8, -10.6, -11.05, -10.8, -11.15, -10.95, -11.3, -11.05, -11.35, -11.25, -11.5, -11.3, -11.8, -12.3, -12.35, -12.75, -13.0];
const GS13_H2 = [
  -5.75, -6.15, -6.45, -6.65, -6.85, -7.2, -7.6, -7.64, -7.68, -7.75,
  -7.92, -8.12, -8.55, -8.78, -8.88, -8.85, -8.6, -8.55, -8.5, -8.45,
  -8.65, -8.95, -8.85, -9.1, -8.9, -8.6, -8.5, -8.75, -9.05, -8.95,
  -8.7, -9.1, -9.35, -9.5, -9.3, -9.1, -7.4, -9.4, -9.4, -9.5,
  -9.55, -9.7, -9.9, -9.8, -10.05, -10.3, -10.35, -10.6, -10.5, -10.45,
  -10.4, -10.5, -10.35, -10.55, -10.7, -10.85, -10.6, -10.5, -10.8, -10.95,
  -11.0, -10.95, -11.15, -11.2, -11.15, -11.3, -11.35,
  -11.35, -11.3, -11.45, -11.65, -11.95, -12.15, -12.2, -12.4, -12.6, -12.7, -12.8, -12.95, -13.25,
];
const GS13_H2_F = [-9.75, -10.15, -10.0, -10.45, -10.3, -10.65, -10.4, -10.6, -10.3, -10.55, -10.2, -10.65, -10.6, -11.0, -10.65, -10.85, -10.7, -11.1, -10.85, -11.2, -11.0, -11.35, -11.1, -11.4, -11.3, -11.55, -11.35, -11.9, -12.35, -12.45, -12.85, -13.1];
const GS13_H3 = [
  -5.92, -6.25, -6.5, -6.7, -6.88, -7.2, -7.5, -7.55, -7.62, -7.7,
  -7.9, -8.15, -8.6, -8.8, -8.85, -8.8, -8.6, -8.5, -8.1, -7.67,
  -8.2, -8.9, -8.75, -9.15, -8.95, -8.6, -8.5, -8.8, -9.1, -8.9,
  -8.8, -9.2, -9.3, -9.5, -9.2, -9.0, -8.9, -9.3, -9.25, -9.35,
  -9.4, -9.75, -10.0, -10.0, -10.2, -10.4, -10.55, -10.45, -10.5, -10.5,
  -10.4, -10.5, -10.4, -10.6, -10.75, -10.9, -10.8, -10.6, -10.85, -10.95,
  -11.05, -11.0, -11.1, -11.3, -11.2, -11.35, -11.4,
  -11.45, -11.35, -11.5, -11.6, -12.0, -12.1, -12.2, -12.5, -12.45, -12.7, -12.85, -12.95, -13.3,
];
const GS13_H3_F = [-9.8, -10.2, -10.1, -10.5, -10.35, -10.75, -10.4, -10.65, -10.35, -10.6, -10.3, -10.7, -10.65, -11.05, -10.7, -10.95, -10.75, -11.15, -10.9, -11.25, -11.05, -11.4, -11.2, -11.45, -11.35, -11.6, -11.4, -11.85, -12.25, -12.5, -12.9, -13.1];
const GS13_V1 = [
  -5.42, -5.95, -6.35, -6.6, -6.85, -7.3, -7.93, -7.9, -7.8, -7.8,
  -7.95, -8.15, -8.6, -8.82, -8.92, -8.9, -8.75, -8.85, -8.9, -8.9,
  -9.0, -9.1, -8.95, -9.15, -8.9, -8.7, -8.7, -8.8, -9.1, -9.1,
  -9.0, -9.25, -9.4, -9.6, -9.35, -9.25, -9.0, -9.5, -9.6, -9.65,
  -9.8, -9.9, -10.0, -9.95, -10.15, -10.3, -10.4, -10.55, -10.5, -10.5,
  -10.45, -10.5, -10.4, -10.6, -10.7, -10.8, -10.7, -10.5, -10.9, -11.0,
  -11.05, -11.0, -11.15, -11.25, -11.2, -11.35, -11.4,
  -11.45, -11.35, -11.5, -11.7, -11.9, -12.1, -12.3, -12.35, -12.6, -12.65, -12.8, -12.9, -13.1,
];
const GS13_V1_F = [-9.85, -10.1, -10.0, -10.35, -10.25, -10.6, -10.4, -10.65, -10.4, -10.6, -10.35, -10.7, -10.6, -10.95, -10.6, -10.9, -10.75, -11.1, -10.9, -11.2, -11.1, -11.35, -11.15, -11.45, -11.4, -11.55, -11.4, -11.85, -12.3, -12.4, -12.75, -12.95];
const GS13_V2 = [
  -5.7, -6.1, -6.4, -6.62, -6.82, -7.15, -7.6, -7.62, -7.64, -7.7,
  -7.85, -8.05, -8.5, -8.75, -8.88, -8.85, -8.65, -8.5, -8.3, -8.15,
  -8.4, -8.85, -8.8, -9.05, -8.85, -8.4, -8.1, -8.5, -8.8, -8.8,
  -8.7, -9.05, -9.3, -9.5, -9.25, -9.05, -7.25, -9.4, -9.35, -9.4,
  -9.5, -9.65, -9.85, -9.8, -10.05, -10.2, -10.3, -10.4, -10.35, -10.3,
  -10.3, -10.35, -10.25, -10.4, -10.6, -10.7, -10.5, -10.3, -10.6, -10.75,
  -10.85, -10.8, -10.95, -11.05, -11.0, -11.1, -11.2,
  -11.2, -11.1, -11.25, -11.5, -11.85, -12.0, -12.15, -12.25, -12.4, -12.55, -12.7, -12.8, -13.1,
];
const GS13_V2_F = [-9.6, -9.95, -9.85, -10.25, -10.1, -10.45, -10.2, -10.45, -10.15, -10.4, -10.1, -10.5, -10.45, -10.8, -10.4, -10.65, -10.5, -10.85, -10.65, -10.95, -10.8, -11.05, -10.9, -11.15, -11.05, -11.3, -11.15, -11.65, -12.1, -12.25, -12.6, -12.9];
const GS13_V3 = [
  -6.14, -6.4, -6.6, -6.78, -6.95, -7.25, -7.6, -7.62, -7.65, -7.72,
  -7.9, -8.1, -8.55, -8.75, -8.85, -8.82, -8.7, -8.6, -8.5, -8.5,
  -8.55, -8.9, -8.7, -9.0, -8.7, -8.2, -7.75, -8.2, -8.7, -8.75,
  -8.6, -9.0, -9.25, -9.45, -9.2, -8.9, -8.5, -9.3, -9.3, -9.35,
  -9.4, -9.6, -9.8, -9.7, -9.95, -10.1, -10.2, -10.35, -10.25, -10.2,
  -10.2, -10.25, -10.2, -10.3, -10.5, -10.6, -10.3, -9.46, -10.5, -10.6,
  -10.7, -10.65, -10.8, -10.9, -10.85, -11.0, -11.05,
  -11.1, -11.0, -11.2, -11.45, -11.8, -12.0, -12.1, -12.3, -12.4, -12.5, -12.7, -12.85, -13.2,
];
const GS13_V3_F = [-9.5, -9.85, -9.75, -10.1, -9.95, -10.3, -10.05, -10.3, -10.0, -10.25, -9.9, -10.35, -10.3, -10.65, -10.2, -9.9, -10.35, -10.7, -10.5, -10.85, -10.7, -10.95, -10.75, -11.05, -10.95, -11.2, -11.0, -11.6, -12.05, -12.2, -12.55, -13.0];

// Line colours
const BLUE = "#0000ff";
const GREEN = "#008000";
const RED = "#ff0000";
const CYAN = "#00bfbf";
const MAGENTA = "#bf00bf";
const OLIVE = "#bfbf00";
const GREY = "#404040";

type Series = { name: string; color: string; values: number[]; fine: number[] };
type Panel = {
  title: string;
  freq: number[];
  fineFreq: number[];
  xMin: number;
  xMax: number;
  yMinExp: number;
  yMaxExp: number;
  rect: { l: number; t: number; r: number; b: number };
  series: Series[];
};

const SIX_NAMES = ["H1", "H2", "H3", "V1", "V2", "V3"];
const SIX_COLORS = [BLUE, GREEN, RED, CYAN, MAGENTA, OLIVE];

const sixChannels = (v: number[][], f: number[][]): Series[] =>
  SIX_NAMES.map((name, i) => ({ name, color: SIX_COLORS[i], values: v[i], fine: f[i] }));

const PANELS: Panel[] = [
  {
    title: "ST1 CPS",
    freq: FREQ_CPS,
    fineFreq: FINE_CPS,
    xMin: 0.2,
    xMax: 500,
    yMinExp: -10,
    yMaxExp: -5,
    rect: { l: 72, t: 65, r: 634, b: 248 },
    series: sixChannels(
      [ST1_H1, ST1_H2, ST1_H3, ST1_V1, ST1_V2, ST1_V3],
      [ST1_H1_F, ST1_H2_F, ST1_H3_F, ST1_V1_F, ST1_V2_F, ST1_V3_F]
    ),
  },
  {
    title: "T240",
    freq: FREQ_T240,
    fineFreq: FINE_T240,
    xMin: 0.2,
    xMax: 1000,
    yMinExp: -13,
    yMaxExp: -4,
    rect: { l: 810, t: 65, r: 1372, b: 248 },
    series: [
      { name: "X1", color: BLUE, values: T240_X1, fine: T240_X1_F },
      { name: "Y1", color: GREEN, values: T240_Y1, fine: T240_Y1_F },
      { name: "Z1", color: RED, values: T240_Z1, fine: T240_Z1_F },
      { name: "X2", color: CYAN, values: T240_X2, fine: T240_X2_F },
      { name: "Y2", color: MAGENTA, values: T240_Y2, fine: T240_Y2_F },
      { name: "Z2", color: OLIVE, values: T240_Z2, fine: T240_Z2_F },
      { name: "X3", color: GREY, values: T240_X3, fine: T240_X3_F },
      { name: "Y3", color: BLUE, values: T240_Y3, fine: T240_Y3_F },
      { name: "Z3", color: GREEN, values: T240_Z3, fine: T240_Z3_F },
    ],
  },
  {
    title: "L4C",
    freq: FREQ_INERTIAL,
    fineFreq: FINE_INERTIAL,
    xMin: 0.2,
    xMax: 1000,
    yMinExp: -16,
    yMaxExp: -4,
    rect: { l: 72, t: 317, r: 634, b: 501 },
    series: sixChannels(
      [L4C_H1, L4C_H2, L4C_H3, L4C_V1, L4C_V2, L4C_V3],
      [L4C_H1_F, L4C_H2_F, L4C_H3_F, L4C_V1_F, L4C_V2_F, L4C_V3_F]
    ),
  },
  {
    title: "ST2 CPS",
    freq: FREQ_CPS,
    fineFreq: FINE_CPS,
    xMin: 0.2,
    xMax: 500,
    yMinExp: -11,
    yMaxExp: -5,
    rect: { l: 810, t: 317, r: 1372, b: 501 },
    series: sixChannels(
      [ST2_H1, ST2_H2, ST2_H3, ST2_V1, ST2_V2, ST2_V3],
      [ST2_H1_F, ST2_H2_F, ST2_H3_F, ST2_V1_F, ST2_V2_F, ST2_V3_F]
    ),
  },
  {
    title: "GS13",
    freq: FREQ_INERTIAL,
    fineFreq: FINE_INERTIAL,
    xMin: 0.2,
    xMax: 1000,
    yMinExp: -16,
    yMaxExp: -4,
    rect: { l: 72, t: 570, r: 634, b: 754 },
    series: sixChannels(
      [GS13_H1, GS13_H2, GS13_H3, GS13_V1, GS13_V2, GS13_V3],
      [GS13_H1_F, GS13_H2_F, GS13_H3_F, GS13_V1_F, GS13_V2_F, GS13_V3_F]
    ),
  },
];

const GRID_COLOR = "#1a1a1a";

// 1..9 x 10^n positions inside [min, max]
function logPositions(min: number, max: number) {
  const out: { v: number; exp: number; major: boolean }[] = [];
  const e0 = Math.floor(Math.log10(min));
  const e1 = Math.ceil(Math.log10(max));
  for (let e = e0; e <= e1; e++) {
    for (let k = 1; k <= 9; k++) {
      const v = k * Math.pow(10, e);
      if (v >= min * 0.999999 && v <= max * 1.000001) out.push({ v, exp: e, major: k === 1 });
    }
  }
  return out;
}

function drawPower(ctx: CanvasRenderingContext2D, left: number, cy: number, exp: number) {
  ctx.font = `16px ${FONT}`;
  ctx.textAlign = "left";
  ctx.textBaseline = "middle";
  ctx.fillText("10", left, cy);
  const w = ctx.measureText("10").width;
  ctx.font = `11px ${FONT}`;
  ctx.fillText(String(exp), left + w + 0.5, cy - 8);
}

function powerWidth(ctx: CanvasRenderingContext2D, exp: number) {
  ctx.font = `16px ${FONT}`;
  const w = ctx.measureText("10").width;
  ctx.font = `11px ${FONT}`;
  return w + 0.5 + ctx.measureText(String(exp)).width;
}

function makeAxesPlugin(p: Panel) {
  const yMin = Math.pow(10, p.yMinExp);
  const yMax = Math.pow(10, p.yMaxExp);
  return {
    id: "matlabAxes",
    beforeDatasetsDraw(chart: any) {
      const { ctx, chartArea: a } = chart;
      const xs = chart.scales.x;
      const ys = chart.scales.y;
      ctx.save();
      ctx.strokeStyle = GRID_COLOR;
      ctx.lineWidth = 1;
      ctx.setLineDash([3, 2]);
      for (const t of logPositions(p.xMin, p.xMax)) {
        const px = Math.round(xs.getPixelForValue(t.v)) + 0.5;
        ctx.beginPath();
        ctx.moveTo(px, a.top);
        ctx.lineTo(px, a.bottom);
        ctx.stroke();
      }
      for (const t of logPositions(yMin, yMax)) {
        const py = Math.round(ys.getPixelForValue(t.v)) + 0.5;
        ctx.beginPath();
        ctx.moveTo(a.left, py);
        ctx.lineTo(a.right, py);
        ctx.stroke();
      }
      ctx.restore();
    },
    afterDatasetsDraw(chart: any) {
      const { ctx, chartArea: a } = chart;
      const xs = chart.scales.x;
      const ys = chart.scales.y;
      ctx.save();
      ctx.setLineDash([]);
      ctx.strokeStyle = "#000";
      ctx.fillStyle = "#000";
      ctx.lineWidth = 1;

      // axes box and inward ticks
      const L = Math.round(a.left) + 0.5;
      const R = Math.round(a.right) - 0.5;
      const T = Math.round(a.top) + 0.5;
      const B = Math.round(a.bottom) - 0.5;
      ctx.beginPath();
      ctx.rect(L, T, R - L, B - T);
      ctx.stroke();
      ctx.beginPath();
      for (const t of logPositions(p.xMin, p.xMax)) {
        const px = Math.round(xs.getPixelForValue(t.v)) + 0.5;
        const len = t.major ? 5 : 3;
        ctx.moveTo(px, B);
        ctx.lineTo(px, B - len);
        ctx.moveTo(px, T);
        ctx.lineTo(px, T + len);
      }
      for (const t of logPositions(yMin, yMax)) {
        const py = Math.round(ys.getPixelForValue(t.v)) + 0.5;
        const len = t.major ? 5 : 3;
        ctx.moveTo(L, py);
        ctx.lineTo(L + len, py);
        ctx.moveTo(R, py);
        ctx.lineTo(R - len, py);
      }
      ctx.stroke();

      // tick labels
      for (const t of logPositions(p.xMin, p.xMax)) {
        if (!t.major) continue;
        const px = xs.getPixelForValue(t.v);
        const w = powerWidth(ctx, t.exp);
        drawPower(ctx, px - w / 2, a.bottom + 17, t.exp);
      }
      for (const t of logPositions(yMin, yMax)) {
        if (!t.major) continue;
        const py = ys.getPixelForValue(t.v);
        drawPower(ctx, a.left - 37, py + 1.5, t.exp);
      }

      // title and axis labels
      const cx = (a.left + a.right) / 2;
      const cy = (a.top + a.bottom) / 2;
      ctx.textAlign = "center";
      ctx.textBaseline = "middle";
      ctx.font = `20px ${FONT}`;
      ctx.fillText(p.title, cx, a.top - 21);
      ctx.font = `16.5px ${FONT}`;
      ctx.fillText(X_LABEL, cx, a.bottom + 37.5);
      ctx.save();
      ctx.translate(a.left - 53, cy);
      ctx.rotate(-Math.PI / 2);
      ctx.font = `18px ${FONT}`;
      ctx.fillText(Y_LABEL, 0, 0);
      ctx.restore();

      // legend
      const n = p.series.length;
      const boxW = 69;
      const rowH = 18;
      const boxH = (n - 1) * rowH + 26;
      const bx = Math.round(a.right - 5 - boxW) + 0.5;
      const by = Math.round(a.top + 5) + 0.5;
      ctx.fillStyle = "#fff";
      ctx.fillRect(bx, by, boxW, boxH);
      ctx.strokeStyle = "#000";
      ctx.strokeRect(bx, by, boxW, boxH);
      ctx.font = `15px ${FONT}`;
      ctx.textAlign = "left";
      ctx.textBaseline = "middle";
      p.series.forEach((s, i) => {
        const ly = by + 13 + i * rowH;
        ctx.strokeStyle = s.color;
        ctx.lineWidth = 2;
        ctx.beginPath();
        ctx.moveTo(bx + 8, ly);
        ctx.lineTo(bx + 41, ly);
        ctx.stroke();
        ctx.fillStyle = "#000";
        ctx.fillText(s.name, bx + 45, ly + 0.5);
      });
      ctx.restore();
    },
  };
}

function seriesPoints(panel: Panel, s: Series) {
  const main = s.values.map((v, j) => ({ x: panel.freq[j], y: Math.pow(10, v) }));
  const extra = s.fine.map((v, j) => ({ x: panel.fineFreq[j], y: Math.pow(10, v) }));
  return [...main, ...extra].filter((pt) => pt.x !== undefined).sort((a, b) => a.x - b.x);
}

function PanelChart({ panel }: { panel: Panel }) {
  const ref = useRef<HTMLCanvasElement>(null);
  useEffect(() => {
    if (!ref.current) return;
    const n = panel.series.length;
    const chart = new Chart(ref.current, {
      type: "line",
      data: {
        datasets: panel.series.map((s, i) => ({
          label: s.name,
          data: seriesPoints(panel, s),
          borderColor: s.color,
          backgroundColor: s.color,
          borderWidth: 1.5,
          pointRadius: 0,
          tension: 0,
          fill: false,
          order: n - i,
        })),
      },
      options: {
        responsive: false,
        animation: false,
        devicePixelRatio: 1,
        events: [],
        layout: {
          padding: {
            left: panel.rect.l,
            top: panel.rect.t,
            right: PAGE_W - panel.rect.r,
            bottom: PAGE_H - panel.rect.b,
          },
        },
        plugins: { legend: { display: false }, tooltip: { enabled: false }, title: { display: false } },
        scales: {
          x: { type: "logarithmic", min: panel.xMin, max: panel.xMax, display: false },
          y: {
            type: "logarithmic",
            min: Math.pow(10, panel.yMinExp),
            max: Math.pow(10, panel.yMaxExp),
            display: false,
          },
        },
      },
      plugins: [makeAxesPlugin(panel)],
    } as any);
    return () => chart.destroy();
  }, [panel]);
  return (
    <canvas
      ref={ref}
      width={PAGE_W}
      height={PAGE_H}
      style={{ position: "absolute", left: 0, top: 0, width: PAGE_W, height: PAGE_H }}
    />
  );
}

export default function App() {
  return (
    <div
      style={{
        position: "absolute",
        left: 0,
        top: 0,
        width: PAGE_W,
        height: PAGE_H,
        overflow: "hidden",
        background: "#fff",
        fontFamily: FONT,
        color: "#000",
      }}
    >
      <div
        style={{
          position: "absolute",
          left: 266,
          top: 4,
          width: 1000,
          textAlign: "center",
          fontSize: 21,
          lineHeight: "26px",
          whiteSpace: "nowrap",
        }}
      >
        {SUPTITLE}
      </div>
      {PANELS.map((p) => (
        <PanelChart key={p.title} panel={p} />
      ))}
      <div
        style={{
          position: "absolute",
          left: 638.5,
          top: 655.5,
          transform: "translate(-50%, -50%) rotate(-90deg)",
          fontSize: 8,
          whiteSpace: "nowrap",
          lineHeight: "9px",
        }}
      >
        {CREDIT}
      </div>
      <div
        style={{
          position: "absolute",
          left: 900,
          top: 605,
          fontSize: 20,
          lineHeight: "23.6px",
          whiteSpace: "nowrap",
        }}
      >
        {INFO_LINES.map((line) => (
          <div key={line}>{line}</div>
        ))}
      </div>
    </div>
  );
}
